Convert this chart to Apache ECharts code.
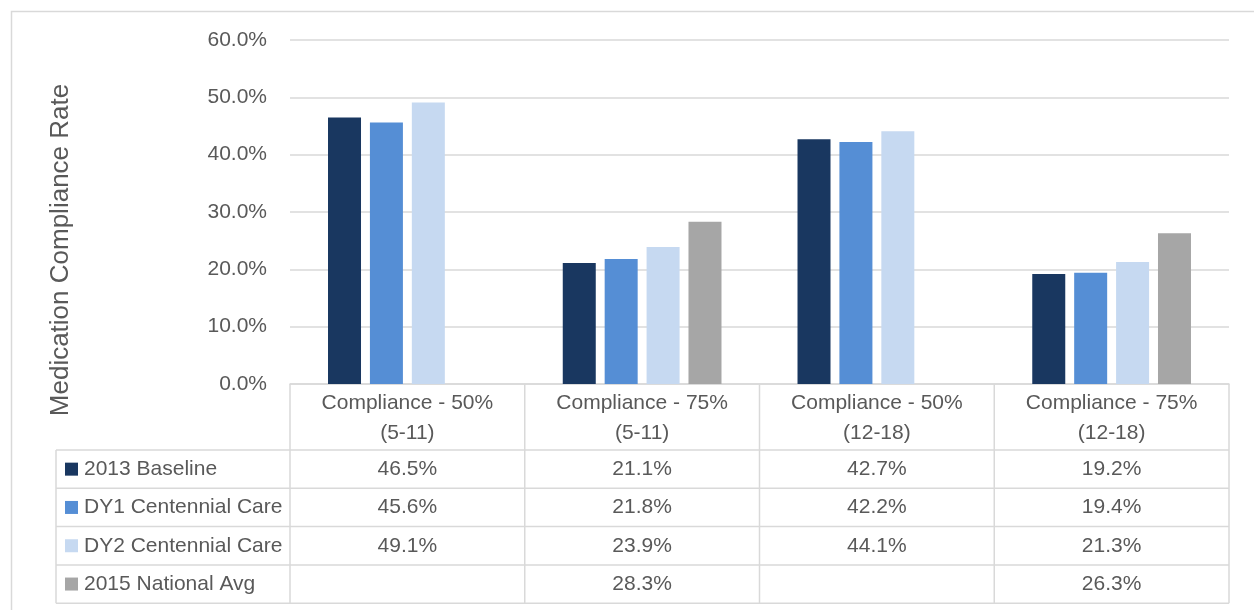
<!DOCTYPE html>
<html><head><meta charset="utf-8">
<script src="https://cdn.jsdelivr.net/npm/echarts@6/dist/echarts.min.js"></script>
<style>html,body{margin:0;padding:0;background:#fff}#c{width:1254px;height:610px}</style>
</head><body><div id="c"></div><script>
// ---- data ----
const categories = ['Compliance - 50%\n(5-11)', 'Compliance - 75%\n(5-11)', 'Compliance - 50%\n(12-18)', 'Compliance - 75%\n(12-18)'];
const seriesNames = ['2013 Baseline', 'DY1 Centennial Care', 'DY2 Centennial Care', '2015 National Avg'];
const baseline2013 = [46.5, 21.1, 42.7, 19.2];
const dy1Centennial = [45.6, 21.8, 42.2, 19.4];
const dy2Centennial = [49.1, 23.9, 44.1, 21.3];
const national2015 = [null, 28.3, null, 26.3];
const yAxisMin = 0, yAxisMax = 60, yAxisStep = 10;
const yAxisTitle = 'Medication Compliance Rate';

// ---- styles ----
const colors = ['#193760', '#558ed5', '#c6d9f1', '#a6a6a6'];
const textColor = '#595959';
const lineColor = '#d9d9d9';
const FONT = "'Liberation Sans', Arial, sans-serif";
const FS = 21;

const seriesValues = [baseline2013, dy1Centennial, dy2Centennial, national2015];

const W = 1254, H = 610;
const gridLeft = 290, gridRight = 25, gridTop = 40, gridBottomY = 384;
const tableLeft = 56, headerBottom = 450, rowH = 38.3;

const chart = echarts.init(document.getElementById('c'), null, {renderer: 'canvas'});

const option = {
  backgroundColor: '#fff',
  animation: false,
  color: colors,
  grid: {left: gridLeft, right: gridRight, top: gridTop, bottom: H - gridBottomY, containLabel: false},
  xAxis: {
    type: 'category',
    data: categories,
    axisLine: {show: true, lineStyle: {color: lineColor, width: 1.5}},
    axisTick: {show: false},
    axisLabel: {interval: 0, color: textColor, fontFamily: FONT, fontSize: FS, lineHeight: 30, margin: 4}
  },
  yAxis: {
    type: 'value', min: yAxisMin, max: yAxisMax, interval: yAxisStep,
    axisLine: {show: false}, axisTick: {show: false},
    axisLabel: {color: textColor, fontFamily: FONT, fontSize: FS, margin: 23,
      formatter: v => v.toFixed(1) + '%'},
    splitLine: {lineStyle: {color: lineColor, width: 1.5}}
  },
  series: seriesNames.map((n, i) => ({
    name: n, type: 'bar', data: seriesValues[i],
    barWidth: 33, barGap: '27%',
    itemStyle: {color: colors[i]}
  }))
};
chart.setOption(option);

// ---- data table (built from the arrays) ----
const g = [];
const plotRight = W - gridRight;
const colW = (plotRight - gridLeft) / categories.length;
const colX = i => gridLeft + i * colW;
const nRows = seriesNames.length;
const tableBottom = headerBottom + nRows * rowH;
const ls = {stroke: lineColor, lineWidth: 1.5};
// outer chart border (cropped)
g.push({type: 'rect', shape: {x: 11.5, y: 11.5, width: 1400, height: 800}, style: {fill: null, stroke: lineColor, lineWidth: 1.5}, silent: true});
// y axis title
g.push({type: 'text', x: 61, y: 250, rotation: Math.PI / 2,
  style: {text: yAxisTitle, fill: textColor, font: '26px ' + FONT, textAlign: 'center', textVerticalAlign: 'middle'}});
// vertical lines
for (let i = 0; i <= categories.length; i++) {
  g.push({type: 'line', shape: {x1: colX(i), y1: gridBottomY, x2: colX(i), y2: tableBottom}, style: ls});
}
g.push({type: 'line', shape: {x1: tableLeft, y1: headerBottom, x2: tableLeft, y2: tableBottom}, style: ls});
// horizontal lines
for (let r = 0; r <= nRows; r++) {
  const y = headerBottom + r * rowH;
  g.push({type: 'line', shape: {x1: tableLeft, y1: y, x2: plotRight, y2: y}, style: ls});
}
// rows
seriesNames.forEach((n, r) => {
  const cy = headerBottom + r * rowH + rowH / 2;
  g.push({type: 'rect', shape: {x: 65, y: cy - 6.5, width: 13, height: 13}, style: {fill: colors[r]}});
  g.push({type: 'text', x: 84, y: cy, style: {text: n, fill: textColor, font: FS + 'px ' + FONT, textAlign: 'left', textVerticalAlign: 'middle'}});
  seriesValues[r].forEach((v, c) => {
    if (v == null) return;
    g.push({type: 'text', x: colX(c) + colW / 2, y: cy, style: {text: v.toFixed(1) + '%', fill: textColor, font: FS + 'px ' + FONT, textAlign: 'center', textVerticalAlign: 'middle'}});
  });
});
chart.setOption({graphic: {elements: g}});
</script></body></html>
